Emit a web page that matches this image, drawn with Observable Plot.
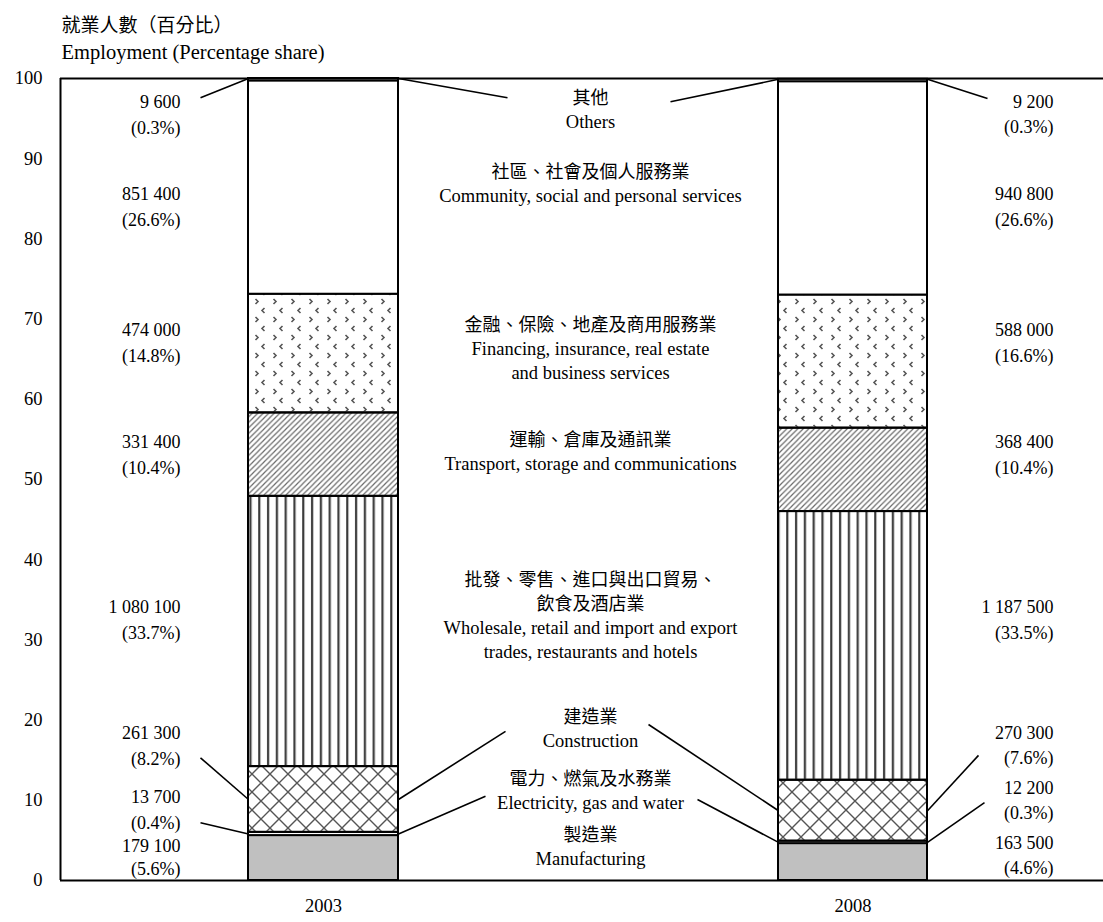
<!DOCTYPE html>
<html><head><meta charset="utf-8">
<script src="https://cdn.jsdelivr.net/npm/d3@7"></script>
<script src="https://cdn.jsdelivr.net/npm/@observablehq/plot@0.6"></script>
<style>body{margin:0;background:#fff;}</style>
</head><body><div id="chart"></div>
<script>
// ---------- data ----------
const years = ["2003", "2008"];
const catZh = [["製造業"], ["電力、燃氣及水務業"], ["建造業"], ["批發、零售、進口與出口貿易、", "飲食及酒店業"], ["運輸、倉庫及通訊業"], ["金融、保險、地產及商用服務業"], ["社區、社會及個人服務業"], ["其他"]];
const catEn = [["Manufacturing"], ["Electricity, gas and water"], ["Construction"], ["Wholesale, retail and import and export", "trades, restaurants and hotels"], ["Transport, storage and communications"], ["Financing, insurance, real estate", "and business services"], ["Community, social and personal services"], ["Others"]];
const share2003 = [5.6, 0.4, 8.2, 33.7, 10.4, 14.8, 26.6, 0.3];
const share2008 = [4.6, 0.3, 7.6, 33.5, 10.4, 16.6, 26.6, 0.3];
const persons2003 = ["179 100", "13 700", "261 300", "1 080 100", "331 400", "474 000", "851 400", "9 600"];
const persons2008 = ["163 500", "12 200", "270 300", "1 187 500", "368 400", "588 000", "940 800", "9 200"];
const yTicks = [0, 10, 20, 30, 40, 50, 60, 70, 80, 90, 100];
const titleZh = "就業人數（百分比）";
const titleEn = "Employment (Percentage share)";

// ---------- layout (horizontal layout units, vertical in percent) ----------
const barSpan = {"2003": [188, 338], "2008": [718, 867]};
const leftLabelX = 120, rightLabelX = 993, midLabelX = 530;
const leftLabelY = [4.24, 10.35, 18.33, 34.04, 54.61, 68.58, 85.54, 97.01];
const rightLabelY = [4.61, 11.47, 18.33, 34.04, 54.61, 68.58, 85.54, 97.01];
const leftGap = [2.87, 3.2, 3.24, 3.24, 3.24, 3.24, 3.24, 3.24];
const rightGap = [3.12, 3.12, 3.12, 3.24, 3.24, 3.24, 3.24, 3.12];
const midTopY = [5.61, 12.59, 20.32, 37.41, 54.86, 69.2, 88.28, 97.51];
const midStep = 2.99;
const fills = ["#c0c0c0", "#ffffff", "url(#pCross)", "url(#pVert)", "url(#pDiag)", "url(#pDots)", "#ffffff", "#ffffff"];
// leader lines: year, category, side of bar, label-end point
const leaderEnds = [
  {year: "2003", cat: 7, side: 0, lx: 140, ly: 97.6},
  {year: "2003", cat: 2, side: 0, lx: 140, ly: 15.3},
  {year: "2003", cat: 1, side: 0, lx: 140, ly: 7.2},
  {year: "2003", cat: 7, side: 1, lx: 447, ly: 97.6},
  {year: "2003", cat: 2, side: 1, lx: 445, ly: 18.6},
  {year: "2003", cat: 1, side: 1, lx: 425, ly: 10.5},
  {year: "2008", cat: 7, side: 0, lx: 610, ly: 97.1},
  {year: "2008", cat: 2, side: 0, lx: 588, ly: 19.45},
  {year: "2008", cat: 1, side: 0, lx: 637, ly: 10.1},
  {year: "2008", cat: 7, side: 1, lx: 927, ly: 97.5},
  {year: "2008", cat: 2, side: 1, lx: 918, ly: 15.6},
  {year: "2008", cat: 1, side: 1, lx: 924, ly: 9.7}
];

// ---------- derived ----------
const shares = {"2003": share2003, "2008": share2008};
const segs = [];
for (const yr of years) {
  let c = 0;
  shares[yr].forEach((v, i) => { segs.push({year: yr, cat: i, y1: c, y2: c + v}); c += v; });
}
const segOf = (yr, i) => segs.find(d => d.year === yr && d.cat === i);
const leaders = leaderEnds.map(l => {
  const s = segOf(l.year, l.cat);
  return {
    bx: barSpan[l.year][l.side], by: l.cat === 7 ? s.y2 : (s.y1 + s.y2) / 2,
    lx: l.lx, ly: l.ly
  };
});
const sideLabels = [];
persons2003.forEach((p, i) => {
  sideLabels.push({x: leftLabelX, y: leftLabelY[i], t: p});
  sideLabels.push({x: leftLabelX, y: leftLabelY[i] - leftGap[i], t: `(${share2003[i].toFixed(1)}%)`});
});
persons2008.forEach((p, i) => {
  sideLabels.push({x: rightLabelX, y: rightLabelY[i], t: p});
  sideLabels.push({x: rightLabelX, y: rightLabelY[i] - rightGap[i], t: `(${share2008[i].toFixed(1)}%)`});
});
const midZh = [], midEn = [];
catZh.forEach((lines, i) => {
  lines.forEach((t, k) => midZh.push({y: midTopY[i] - k * midStep, t}));
  catEn[i].forEach((t, k) => midEn.push({y: midTopY[i] - (lines.length + k) * midStep, t}));
});

const FONT = "'Liberation Serif', 'Noto Sans CJK TC', serif";
const marks = [];
fills.forEach((f, i) => {
  marks.push(Plot.rect(segs.filter(d => d.cat === i), {
    x1: d => barSpan[d.year][0], x2: d => barSpan[d.year][1], y1: "y1", y2: "y2",
    fill: f, stroke: "#000", strokeWidth: 2
  }));
});
marks.push(
  Plot.ruleY([0, 100], {stroke: "#000", strokeWidth: 2}),
  Plot.ruleX([0], {y1: 0, y2: 100, stroke: "#000", strokeWidth: 2}),
  Plot.axisY({ticks: yTicks, tickSize: 0, tickPadding: 18, fontSize: 18.5, tickFormat: d => String(d), label: null}),
  Plot.link(leaders, {x1: "bx", y1: "by", x2: "lx", y2: "ly", stroke: "#000", strokeWidth: 1.6}),
  Plot.text(sideLabels, {x: "x", y: "y", text: "t", textAnchor: "end", fontSize: 18, fill: "#000"}),
  Plot.text(midZh, {x: midLabelX, y: "y", text: "t", fontSize: 18, fill: "#000"}),
  Plot.text(midEn, {x: midLabelX, y: "y", text: "t", fontSize: 18.5, fill: "#000"}),
  Plot.text(years, {x: d => (barSpan[d][0] + barSpan[d][1]) / 2, frameAnchor: "bottom", dy: 31, text: d => d, fontSize: 18.5, fill: "#000"}),
  Plot.text([titleZh], {frameAnchor: "top-left", dy: -60, dx: 1, text: d => d, fontSize: 19, fill: "#000"}),
  Plot.text([titleEn], {frameAnchor: "top-left", dy: -34, dx: 1, text: d => d, fontSize: 20.5, fill: "#000"})
);

const chart = Plot.plot({
  width: 1103, height: 922,
  marginLeft: 60, marginRight: 0, marginTop: 78, marginBottom: 42,
  x: {type: "linear", domain: [0, 1043], axis: null},
  y: {domain: [0, 100], axis: null},
  style: {fontFamily: FONT, background: "#fff", color: "#000", overflow: "visible"},
  marks
});

const defs = `<defs>
<pattern id="pCross" patternUnits="userSpaceOnUse" width="18" height="18">
  <path d="M0,0L18,18M18,0L0,18" stroke="#555" stroke-width="1.4" fill="none"/>
</pattern>
<pattern id="pVert" patternUnits="userSpaceOnUse" width="8.8" height="10">
  <rect x="3" y="0" width="2.2" height="10" fill="#3a3a3a"/>
</pattern>
<pattern id="pDiag" patternUnits="userSpaceOnUse" width="5.5" height="5.5">
  <path d="M-1,6.5L6.5,-1M-1,1L1,-1M4.5,6.5L6.5,4.5" stroke="#6a6a6a" stroke-width="1.2" fill="none"/>
</pattern>
<pattern id="pDots" patternUnits="userSpaceOnUse" width="18" height="18">
  <path d="M12.5,2L10,4.5L12.5,7M3.5,11L6,13.5L3.5,16" stroke="#555" stroke-width="1.6" fill="none"/>
</pattern>
</defs>`;
chart.insertAdjacentHTML("afterbegin", defs);
document.getElementById("chart").appendChild(chart);
</script>
</body></html>
